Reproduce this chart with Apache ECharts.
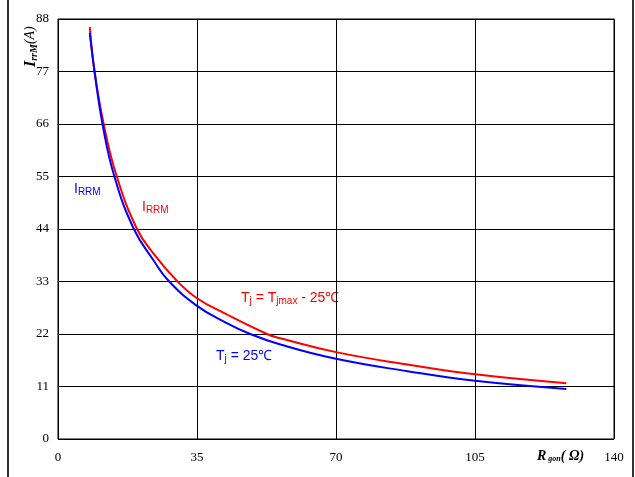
<!DOCTYPE html>
<html>
<head>
<meta charset="utf-8">
<script src="https://cdn.jsdelivr.net/npm/echarts@6/dist/echarts.min.js"></script>
<style>
  html, body { margin: 0; padding: 0; background: #fff; }
  #chart { width: 635px; height: 477px; }
</style>
</head>
<body>
<div id="chart"></div>
<script>
// Gate resistance (Ω) vs. reverse recovery peak current (A)
const xTicks = [0, 35, 70, 105, 140];
const yTicks = [0, 11, 22, 33, 44, 55, 66, 77, 88];

// Tj = 25℃
const rgon25 = [8, 9.2, 11.2, 14.2, 19.1, 24, 28, 35, 42, 48.4, 56, 70, 88, 105, 128];
const irrm25 = [85.1, 77, 66, 55, 44, 37.5, 33, 27.9, 24.5, 22, 19.8, 16.8, 14.2, 12.2, 10.5];

// Tj = Tjmax - 25℃
const rgonHot = [8, 9.2, 11.5, 14.8, 19.9, 24, 30.1, 35, 42, 52.6, 56, 70, 88, 105, 128];
const irrmHot = [86.3, 77, 66, 55, 44, 38.9, 33, 29.5, 26.3, 22, 21.1, 18.2, 15.6, 13.55, 11.7];

const pairs = (xs, ys) => xs.map((x, i) => [x, ys[i]]);

const chart = echarts.init(document.getElementById('chart'), null, { renderer: 'canvas' });

const serif = '"Liberation Serif", "Times New Roman", serif';
const sans = '"Liberation Sans", Arial, sans-serif';

chart.setOption({
  animation: false,
  backgroundColor: '#fff',
  grid: { left: 58, right: 21, top: 19, bottom: 38, show: true, borderColor: '#000', borderWidth: 1 },
  xAxis: {
    type: 'value',
    min: xTicks[0], max: xTicks[xTicks.length - 1], interval: 35,
    axisLine: { show: false },
    axisTick: { show: false },
    splitLine: { lineStyle: { color: '#000', width: 1 } },
    axisLabel: { color: '#000', fontFamily: serif, fontSize: 13, margin: 12 }
  },
  yAxis: {
    type: 'value',
    min: yTicks[0], max: yTicks[yTicks.length - 1], interval: 11,
    axisLine: { show: false },
    axisTick: { show: false },
    splitLine: { lineStyle: { color: '#000', width: 1 } },
    axisLabel: { color: '#000', fontFamily: serif, fontSize: 13, margin: 9 }
  },
  series: [
    {
      type: 'line', data: pairs(rgonHot, irrmHot), smooth: 0.45,
      symbol: 'none', lineStyle: { color: '#ff0000', width: 2 }, z: 3
    },
    {
      type: 'line', data: pairs(rgon25, irrm25), smooth: 0.45,
      symbol: 'none', lineStyle: { color: '#0000ff', width: 2 }, z: 4
    }
  ],
  graphic: [
    { type: 'line', shape: { x1: 8, y1: 0, x2: 8, y2: 477 }, style: { stroke: '#333', lineWidth: 2 } },
    { type: 'line', shape: { x1: 633, y1: 0, x2: 633, y2: 477 }, style: { stroke: '#333', lineWidth: 2 } },
    {
      type: 'text', x: 22, y: 67, rotation: Math.PI / 2,
      style: {
        text: '{b|I}{s|rrM}{n|(A)}',
        rich: {
          b: { fontFamily: serif, fontSize: 16, fontWeight: 'bold', fontStyle: 'italic', fill: '#000' },
          s: { fontFamily: serif, fontSize: 10, fontWeight: 'bold', fontStyle: 'italic', fill: '#000', padding: [7, 0, 0, 0] },
          n: { fontFamily: serif, fontSize: 14, fontStyle: 'italic', fill: '#000' }
        }
      }
    },
    {
      type: 'text', x: 537, y: 449,
      style: {
        text: '{b|R}{s| gon}{n|( }{b|Ω}{n|)}',
        rich: {
          b: { fontFamily: serif, fontSize: 14, fontWeight: 'bold', fontStyle: 'italic', fill: '#000' },
          s: { fontFamily: serif, fontSize: 8, fontWeight: 'bold', fontStyle: 'italic', fill: '#000', padding: [6, 0, 0, 0] },
          n: { fontFamily: serif, fontSize: 14, fontWeight: 'bold', fontStyle: 'italic', fill: '#000' }
        }
      }
    },
    {
      type: 'text', x: 74, y: 181,
      style: {
        text: '{m|I}{s|RRM}',
        rich: {
          m: { fontFamily: sans, fontSize: 14, fill: '#0000ff' },
          s: { fontFamily: sans, fontSize: 10, fill: '#0000ff', padding: [6, 0, 0, 0] }
        }
      }
    },
    {
      type: 'text', x: 142, y: 199,
      style: {
        text: '{m|I}{s|RRM}',
        rich: {
          m: { fontFamily: sans, fontSize: 14, fill: '#ff0000' },
          s: { fontFamily: sans, fontSize: 10, fill: '#ff0000', padding: [6, 0, 0, 0] }
        }
      }
    },
    {
      type: 'text', x: 241, y: 290,
      style: {
        text: '{m|T}{s|j}{m| = T}{s|jmax}{m| - 25℃}',
        rich: {
          m: { fontFamily: sans, fontSize: 14, fill: '#ff0000' },
          s: { fontFamily: sans, fontSize: 10, fill: '#ff0000', padding: [6, 0, 0, 0] }
        }
      }
    },
    {
      type: 'text', x: 216, y: 348,
      style: {
        text: '{m|T}{s|j}{m| = 25℃}',
        rich: {
          m: { fontFamily: sans, fontSize: 14, fill: '#0000ff' },
          s: { fontFamily: sans, fontSize: 10, fill: '#0000ff', padding: [6, 0, 0, 0] }
        }
      }
    }
  ]
});
</script>
</body>
</html>
